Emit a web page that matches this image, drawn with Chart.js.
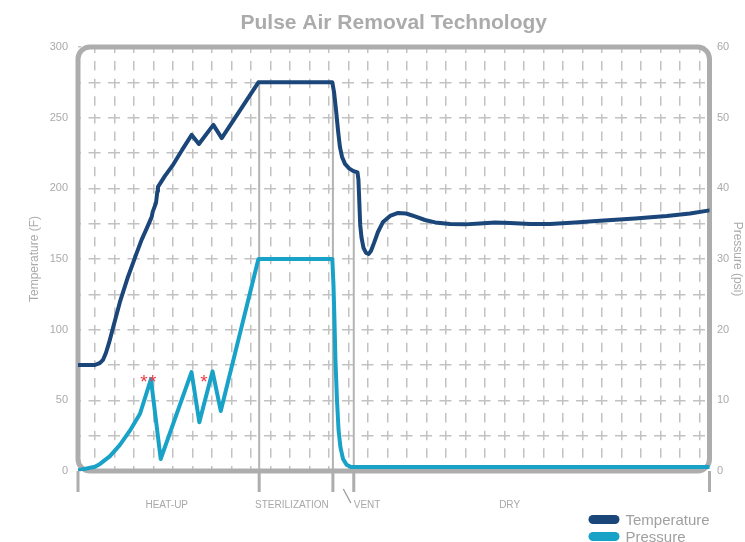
<!DOCTYPE html>
<html lang="en">
<head>
<meta charset="UTF-8">
<title>Pulse Air Removal Technology</title>
<script src="https://cdn.jsdelivr.net/npm/chart.js"></script>
<style>
  html, body { margin: 0; padding: 0; background: #fff; }
  #wrap { width: 745px; height: 542px; position: relative; }
</style>
</head>
<body>
<div id="wrap"><canvas id="chart"></canvas></div>
<script>
// x runs in grid columns (one dashed column = 1 unit), temperature in °F, pressure in psi
const tempX = [-0.87, 0, 0.26, 0.41, 0.56, 0.72, 0.92, 1.28, 1.69, 2.14, 2.39, 2.62, 2.91, 2.96, 3.13, 3.2, 3.23, 3.59, 4.02,
               4.46, 4.96, 5.33, 6.07, 6.5, 8.38,
               12.17, 12.26, 12.36, 12.46, 12.56, 12.67, 12.82, 13.03, 13.23, 13.46, 13.51, 13.55, 13.6, 13.67, 13.77, 13.9,
               14.03, 14.15, 14.31, 14.51, 14.77, 15.13, 15.54, 15.95, 16.41, 16.92, 17.44, 18.21, 18.97, 19.74, 20.51,
               21.28, 22.31, 23.33, 24.62, 25.9, 27.69, 29.32, 30.51, 31.51];
const tempF = [75, 75, 76.5, 78.6, 83.5, 90.6, 101, 119.6, 137.3, 154.3, 163.5, 170.6, 179.8, 183.3, 189.7, 198, 201, 208.8, 217,
               227, 237.8, 231.4, 244.9, 235.5, 275,
               275, 268, 255.5, 241.3, 229.3, 222.2, 217.3, 214.1, 212.3, 211.3, 206, 191.8, 174.1, 164.9, 157.8, 154.3,
               153.6, 155.7, 161.4, 169.1, 176.2, 180.5, 182.6, 182.2, 180.1, 177.6, 175.9, 174.8, 174.5, 175.2, 175.9,
               175.5, 174.8, 174.8, 175.9, 177.1, 178.7, 180.5, 182.2, 184.4];

const presX = [-0.87, 0, 0.26, 0.77, 1.28, 1.79, 2.31, 2.87, 3.37, 4.95, 5.35, 6.03, 6.45, 8.38,
               12.17, 12.23, 12.28, 12.33, 12.41, 12.49, 12.59, 12.72, 12.9, 13.13, 31.51];
const presPsi = [0.1, 0.6, 1.0, 2.1, 3.7, 5.7, 8.1, 13, 1.7, 14, 6.9, 14.1, 8.5, 30,
                 30, 26.3, 21.4, 15.7, 10, 5.8, 3.3, 1.7, 0.9, 0.55, 0.55];

const phaseNames = ['HEAT-UP', 'STERILIZATION', 'VENT', 'DRY'];
const phaseBounds = [8.42, 12.2, 13.27];
const phaseLineTopF = [275, 275, 211];

// red asterisks marking the pulses
const pulseMarkX = [2.51, 2.96, 5.59];
const pulseMarkPsi = [13.3, 13.3, 13.3];

const xMin = -0.87, xMax = 31.51;
const gridCols = [];
for (let c = 0; c <= 31; c++) gridCols.push(c);

// where the phase captions sit (x units), VENT is left aligned on its divider
const phaseLabelX = [3.68, 10.1, 13.27, 21.26];

const GREY = '#aaaaaa';
const FONT = '"Liberation Sans", Arial, Helvetica, sans-serif';

const decor = {
  id: 'decor',
  beforeDatasetsDraw(chart) {
    const { ctx, chartArea: a, scales: { x, y } } = chart;
    ctx.save();
    ctx.strokeStyle = '#b3b3b3';
    ctx.lineWidth = 2;
    phaseBounds.forEach((b, i) => {
      const px = x.getPixelForValue(b);
      ctx.beginPath();
      ctx.moveTo(px, y.getPixelForValue(phaseLineTopF[i]));
      ctx.lineTo(px, a.bottom);
      ctx.stroke();
    });
    // rounded frame
    ctx.strokeStyle = '#adadad';
    ctx.lineWidth = 5;
    ctx.beginPath();
    ctx.roundRect(a.left, a.top, a.right - a.left, a.bottom - a.top, 12);
    ctx.stroke();
    ctx.restore();
  },
  afterDraw(chart) {
    const { ctx, chartArea: a, scales: { x, y2 } } = chart;
    ctx.save();

    // title
    ctx.fillStyle = '#ababab';
    ctx.font = 'bold 21px ' + FONT;
    ctx.textAlign = 'center';
    ctx.textBaseline = 'alphabetic';
    ctx.fillText('Pulse Air Removal Technology', (a.left + a.right) / 2, 29);

    // phase ticks under the frame
    ctx.strokeStyle = '#adadad';
    ctx.lineWidth = 3;
    [xMin, ...phaseBounds, xMax].forEach(v => {
      const px = Math.min(Math.max(x.getPixelForValue(v), a.left), a.right);
      ctx.beginPath();
      ctx.moveTo(px, a.bottom);
      ctx.lineTo(px, a.bottom + 21);
      ctx.stroke();
    });
    // little slash between sterilization and vent
    const mid = (x.getPixelForValue(phaseBounds[1]) + x.getPixelForValue(phaseBounds[2])) / 2;
    ctx.strokeStyle = '#9a9a9a';
    ctx.lineWidth = 1.3;
    ctx.beginPath();
    ctx.moveTo(mid, a.bottom + 18);
    ctx.lineTo(mid + 7.5, a.bottom + 32);
    ctx.stroke();

    // phase captions
    ctx.fillStyle = '#a8a8a8';
    ctx.font = '10px ' + FONT;
    ctx.textBaseline = 'middle';
    phaseNames.forEach((n, i) => {
      ctx.textAlign = n === 'VENT' ? 'left' : 'center';
      ctx.fillText(n, x.getPixelForValue(phaseLabelX[i]), a.bottom + 34);
    });

    // asterisks
    ctx.fillStyle = '#ee3b43';
    ctx.font = '19px ' + FONT;
    ctx.textAlign = 'center';
    ctx.textBaseline = 'alphabetic';
    pulseMarkX.forEach((v, i) => {
      ctx.fillText('*', x.getPixelForValue(v), y2.getPixelForValue(pulseMarkPsi[i]) + 11);
    });

    // legend
    const lx = a.right - 121;
    chart.data.datasets.forEach((ds, i) => {
      const cy = 519.5 + i * 17;
      ctx.fillStyle = ds.borderColor;
      ctx.beginPath();
      ctx.roundRect(lx, cy - 4.5, 31, 9, 4.5);
      ctx.fill();
      ctx.fillStyle = '#a0a0a0';
      ctx.font = '15px ' + FONT;
      ctx.textAlign = 'left';
      ctx.textBaseline = 'middle';
      ctx.fillText(ds.label, lx + 37, cy + 1);
    });
    ctx.restore();
  }
};

const tickFont = { family: FONT, size: 11 };

new Chart(document.getElementById('chart'), {
  type: 'line',
  data: {
    datasets: [
      {
        label: 'Temperature',
        data: tempX.map((v, i) => ({ x: v, y: tempF[i] })),
        yAxisID: 'y',
        borderColor: '#1b4679',
        borderWidth: 4,
        pointRadius: 0,
        tension: 0,
        borderJoinStyle: 'round',
        borderCapStyle: 'round'
      },
      {
        label: 'Pressure',
        data: presX.map((v, i) => ({ x: v, y: presPsi[i] })),
        yAxisID: 'y2',
        borderColor: '#19a2c8',
        borderWidth: 4,
        pointRadius: 0,
        tension: 0,
        borderJoinStyle: 'round',
        borderCapStyle: 'round'
      }
    ]
  },
  options: {
    responsive: true,
    maintainAspectRatio: false,
    animation: false,
    layout: { padding: { top: 47, bottom: 71, left: 0, right: 0 } },
    plugins: {
      legend: { display: false },
      tooltip: { enabled: false },
      title: { display: false }
    },
    scales: {
      x: {
        type: 'linear',
        min: xMin,
        max: xMax,
        afterBuildTicks: s => { s.ticks = gridCols.map(v => ({ value: v })); },
        afterFit: s => { s.height = 0; },
        ticks: { display: false },
        grid: { color: '#c2c2c2', lineWidth: 1.5, drawTicks: false },
        border: { display: false, dash: [9.5, 8.1], dashOffset: 3.5 }
      },
      y: {
        position: 'left',
        min: 0,
        max: 300,
        afterFit: s => { s.width = 78; },
        ticks: {
          stepSize: 25,
          padding: 10,
          color: GREY,
          font: tickFont,
          callback: v => (v % 50 === 0 ? v : '')
        },
        grid: { color: '#c2c2c2', lineWidth: 1.5, drawTicks: false },
        border: { display: false, dash: [12, 7.5], dashOffset: 9 },
        title: { display: true, text: 'Temperature (F)', color: GREY, font: { family: FONT, size: 12 }, padding: { top: 27, bottom: 0 } }
      },
      y2: {
        position: 'right',
        min: 0,
        max: 60,
        afterFit: s => { s.width = 35.5; },
        ticks: { stepSize: 10, padding: 7.5, color: GREY, font: tickFont },
        grid: { drawOnChartArea: false, drawTicks: false },
        border: { display: false },
        title: { display: true, text: 'Pressure (psi)', color: GREY, font: { family: FONT, size: 12 }, padding: { top: 0, bottom: 0 } }
      }
    }
  },
  plugins: [decor]
});
</script>
</body>
</html>
